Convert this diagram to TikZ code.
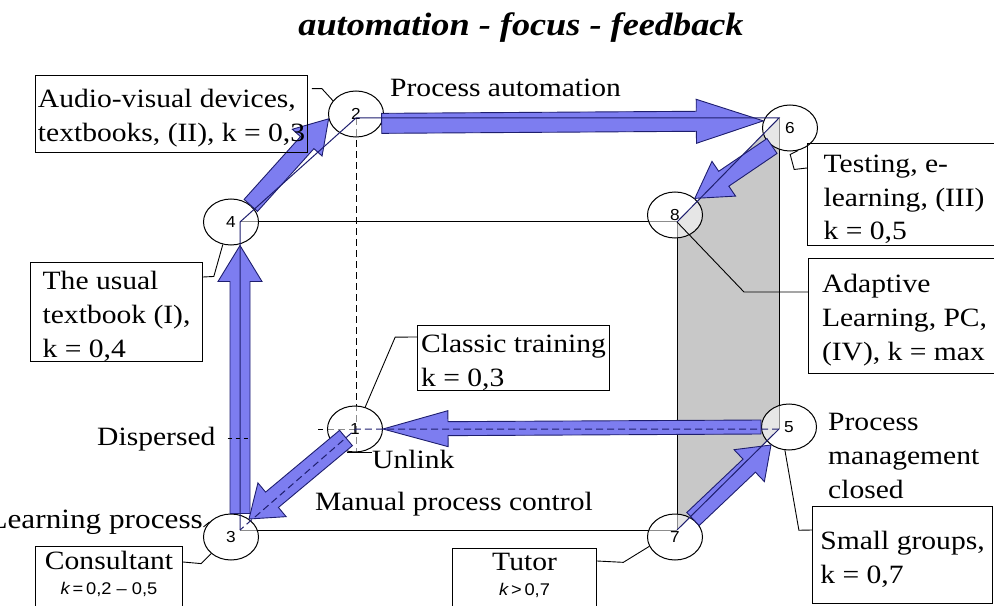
\documentclass[tikz,border=0pt]{standalone}
\usepackage{fontspec}
\setmainfont[FakeStretch=1.12]{Liberation Serif}
\setsansfont[FakeStretch=1.08]{Liberation Sans}
\usetikzlibrary{calc,shapes.geometric}

\definecolor{arrowfill}{RGB}{125,125,240}
\definecolor{arrowline}{RGB}{30,30,110}
\definecolor{facegray}{RGB}{200,200,200}

\tikzset{
  vtx/.style={shape=ellipse, draw=black, line width=1bp, fill=white, fill opacity=0.55, text opacity=1, minimum width=55bp, minimum height=46bp, inner sep=0pt, font=\sffamily\fontsize{16}{17}\selectfont},
  lbl/.style={inner sep=0pt, font=\fontsize{26.5}{34}\selectfont},
  notebox/.style={draw=black, line width=1.1bp, anchor=north west, inner sep=0pt, align=left, font=\fontsize{26.5}{34}\selectfont},
  lead/.style={draw=black, line width=0.9bp},
  rim/.style={draw=black, line width=1bp},
  hid/.style={draw=black, line width=1bp, dash pattern=on 7bp off 4bp},
  fat/.style={fill=arrowfill, draw=arrowline, line width=0.9bp, line join=miter},
}
\newcommand\boxstrut{\rule{0pt}{27bp}}
\newcommand\fatarrow[5]{% from, to, half body, half head, head length
  \coordinate (fs) at (#1);
  \coordinate (fe) at (#2);
  \coordinate (fb) at ($(fe)!#5!(fs)$);
  \draw[fat] ($(fs)!#3!90:(fe)$) -- ($(fb)!#3!-90:(fs)$) -- ($(fb)!#4!-90:(fs)$) -- (fe)
    -- ($(fb)!#4!90:(fs)$) -- ($(fb)!#3!90:(fs)$) -- ($(fs)!#3!-90:(fe)$) -- cycle;
}

\begin{document}
\begin{tikzpicture}[x=1bp, y=-1bp]
\useasboundingbox (0,0) rectangle (994,606);
% cube corners
\coordinate (v1) at (356,429);
\coordinate (v2) at (356,118);
\coordinate (v3) at (240,530);
\coordinate (v4) at (240,222);
\coordinate (v5) at (779,429);
\coordinate (v6) at (779,118);
\coordinate (v7) at (677,530);
\coordinate (v8) at (677,222);
\coordinate (d1) at (318,429);
\coordinate (d2) at (356,452);
% grey face
\fill[facegray] (v8) -- (v6) -- (v5) -- (v7) -- cycle;
\path[rim] (v4) -- (v8);
\path[rim] (v3) -- (v7);
\path[rim] (v8) -- (v7);
\path[rim] (v6) -- (v5);
\path[hid] (v2) -- (d2);
\path[hid] (v1) -- (d1);
% corner circles
\node[vtx] (n1) at (355,429) {1};
\node[vtx] (n2) at (356,114) {2};
\node[vtx] (n3) at (231,537) {3};
\node[vtx] (n4) at (231,222) {4};
\node[vtx] (n5) at (789,427) {5};
\node[vtx] (n6) at (790,128) {6};
\node[vtx] (n7) at (675,537) {7};
\node[vtx] (n8) at (675,215) {8};
% big arrows
\fatarrow{n3.north -| v3}{n4.south -| v3}{10bp}{22bp}{36bp}
\fatarrow{n4.40}{n2.190}{9bp}{20bp}{32bp}
\fatarrow{n2.-20}{n6.165}{10bp}{22bp}{67bp}
\fatarrow{n6.225}{n8.40}{9bp}{21bp}{35bp}
\fatarrow{n7.45}{n5.225}{9bp}{22bp}{30bp}
\fatarrow{n5.west}{n1.east}{7bp}{18bp}{65bp}
\fatarrow{$(n1)!0.5!(n1.225)$}{n3.45}{10bp}{22bp}{30bp}
% edges over the arrows
\path[rim, draw=arrowline] (v3) -- (v4) -- (v2) -- (v6) -- (v8);
\path[rim, draw=arrowline] (v7) -- (v5);
\path[hid, draw=arrowline] (v5) -- (v1) -- (v3);
% texts
\node[inner sep=0pt, anchor=base, font=\fontsize{32.5}{36}\selectfont\bfseries\itshape] (title) at (521,36) {automation - focus - feedback};
\node[lbl, anchor=base west] (auto) at (390,97) {Process automation};
\node[lbl, anchor=base west] (disp) at (97,445) {Dispersed};
\node[lbl, anchor=base west] (unlink) at (372,468) {Unlink};
\node[lbl, anchor=base west] (manual) at (315,510) {Manual process control};
\node[lbl, anchor=base east, font=\fontsize{28}{34}\selectfont] (learn) at (203,528) {Learning process};
\node[lbl, anchor=north west, align=left] (closed) at (828,413) {Process\\management\\closed};
% boxes
\node[notebox, minimum width=272bp, minimum height=77bp] (audio) at (35,75) {\boxstrut Audio-visual devices,\\textbooks, (II), k = 0,3};
\node[notebox, minimum width=172bp, minimum height=95bp] (usual) at (30,262) {\boxstrut The usual\\textbook (I),\\k = 0,4};
\node[notebox, minimum width=192bp, minimum height=64bp] (classic) at (417,325) {\boxstrut Classic training\\k = 0,3};
\node[notebox, minimum width=193bp, minimum height=102bp] (testing) at (807,143) {\boxstrut Testing, e-\\learning, (III)\\k = 0,5};
\node[notebox, minimum width=192bp, minimum height=115bp] (adaptive) at (808,258) {\boxstrut Adaptive\\Learning, PC,\\(IV), k = max};
\node[notebox, minimum width=180bp, minimum height=97bp] (small) at (812,506) {\boxstrut Small groups,\\k = 0,7};
\node[notebox, align=center, minimum width=144bp, minimum height=70bp, text depth=18bp] (tutor) at (452,548) {Tutor\\[-9bp]{\sffamily\fontsize{17}{20}\selectfont\itshape k\upshape\,>\,0,7}};
\node[notebox, align=center, minimum width=147bp, minimum height=70bp, text depth=18bp] (consult) at (35,546) {Consultant\\[-9bp]{\sffamily\fontsize{17}{20}\selectfont\itshape k\upshape\,=\,0,2 – 0,5}};
% leaders
\draw[lead] (n2.150) -- ++(-11,-12) -- ++(-10,0);
\draw[lead] (n4.250) -- ++(-9,32) -- ([yshift=-15bp]usual.north east);
\draw[lead] (n1.65) -- ++(30,-70) -- ([yshift=-12bp]classic.north west);
\draw[lead] (n6.-70) -- ++(-8,4) -- ++(4,15) -- ([yshift=-25bp]testing.north west);
\draw[lead] (v8) -- ++(67,70) -- ([yshift=-34bp]adaptive.north west);
\draw[lead] (n5.-100) -- ++(14,80) -- ([yshift=-24bp]small.north west);
\draw[lead] (n7.200) -- ++(-26,16) -- ([yshift=-13bp]tutor.north east);
\draw[lead] (n3.220) -- ++(-10,10) -- ([yshift=-16bp]consult.north east);
\draw[lead] (n3.145) -- ++(-6,5);
\draw[lead] ([xshift=-8bp]n1.south) -- ([xshift=17bp]n1.south);
\draw[hid, dash pattern=on 4bp off 4bp] ([xshift=12bp]disp.east) -- ++(22,0);
\end{tikzpicture}
\end{document}
